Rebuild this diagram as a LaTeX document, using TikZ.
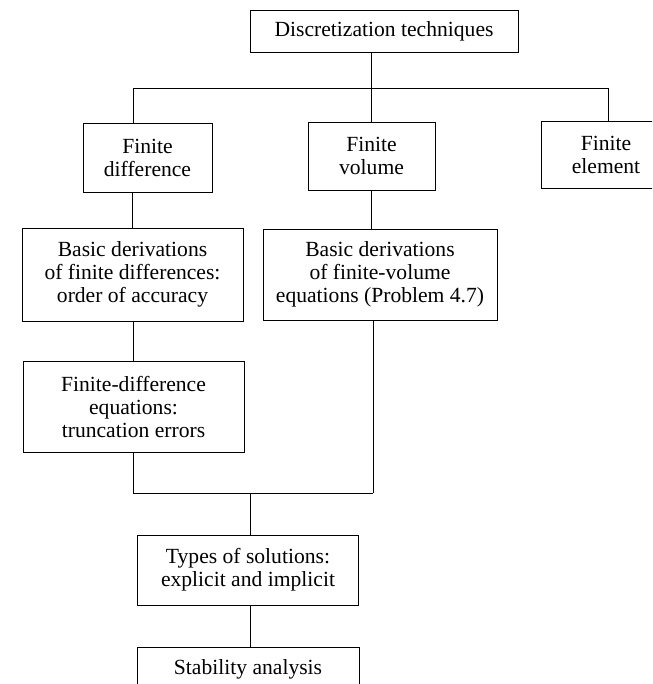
\documentclass[tikz,border=0pt]{standalone}
\usepackage{fontspec}
\setmainfont{Liberation Serif}
\begin{document}
\begin{tikzpicture}[x=1pt,y=-1pt,
  box/.style={draw,line width=0.9pt,align=center,inner sep=0pt,font=\fontsize{21.6}{23}\selectfont},
  conn/.style={line width=0.9pt}]
\useasboundingbox (0,0) rectangle (652,684);
\begin{scope}
\clip (0,0) rectangle (652,684);
\node[box,minimum width=268pt,minimum height=42pt] (top) at (384,31) {Discretization techniques};
\node[box,minimum width=129pt,minimum height=69pt] (fd) at (147.5,157.5) {Finite\\difference};
\node[box,minimum width=127pt,minimum height=68pt] (fv) at (371.5,156) {Finite\\volume};
\node[box,minimum width=130pt,minimum height=67pt] (fe) at (606,154.5) {Finite\\element};
\node[box,minimum width=221pt,minimum height=93pt] (bd) at (132.5,274.5) {Basic derivations\\of finite differences:\\order of accuracy};
\node[box,minimum width=234pt,minimum height=91pt] (bv) at (380,274.5) {Basic derivations\\of finite-volume\\equations (Problem 4.7)};
\node[box,minimum width=221pt,minimum height=91pt] (fde) at (133.5,406.5) {Finite-difference\\equations:\\truncation errors};
\node[box,minimum width=221pt,minimum height=70pt] (ty) at (248,570) {Types of solutions:\\explicit and implicit};
\node[box,minimum width=222pt,minimum height=44pt] (st) at (248,669) {Stability analysis};
\coordinate (busL) at (133,88);
\coordinate (busR) at (608,88);
\coordinate (joinL) at (133,493);
\coordinate (joinR) at (373,493);
\coordinate (joinM) at (250,493);
\draw[conn] (fv.north |- top.south) -- (fv.north);
\draw[conn] (busL) -- (busR);
\draw[conn] (busL) -- (busL |- fd.north);
\draw[conn] (busR) -- (busR |- fe.north);
\draw[conn] (bd.north |- fd.south) -- (bd.north);
\draw[conn] (bd.south -| busL) -- (fde.north -| busL);
\draw[conn] (fv.south) -- (fv.south |- bv.north);
\draw[conn] (joinR |- bv.south) -- (joinR);
\draw[conn] (joinL |- fde.south) -- (joinL) -- (joinR);
\draw[conn] (joinM) -- (joinM |- ty.north);
\draw[conn] (joinM |- ty.south) -- (joinM |- st.north);
\end{scope}
\end{tikzpicture}
\end{document}
